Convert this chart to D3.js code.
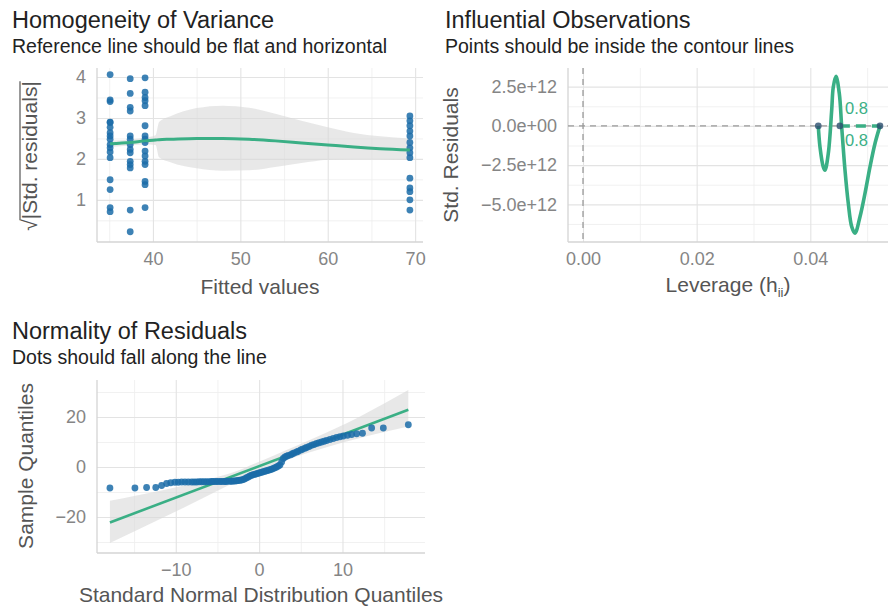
<!DOCTYPE html>
<html><head><meta charset="utf-8">
<script src="https://cdn.jsdelivr.net/npm/d3@7"></script>
<style>
body{margin:0;background:#fff;}
text{font-family:"Liberation Sans",Arial,Helvetica,sans-serif;}
</style></head><body>
<svg id="c" width="888" height="612"></svg>
<script>
// ---------- Panel 1: Homogeneity of Variance ----------
const hovX = [35.1,35.1,35.1,35.1,35.1,35.1,35.1,35.1,35.1,35.1,35.1,35.1,35.1,35.1,35.1,35.1,35.1,
  37.4,37.4,37.4,37.4,37.4,37.4,37.4,37.4,37.4,37.4,37.4,37.4,37.4,37.4,
  39.1,39.1,39.1,39.1,39.1,39.1,39.1,39.1,39.1,39.1,39.1,39.1,39.1,39.1,39.1,39.1,
  69.4,69.4,69.4,69.4,69.4,69.4,69.4,69.4,69.4,69.4,69.4,69.4,69.4,69.4];
const hovY = [4.06,3.44,3.40,2.89,2.77,2.64,2.56,2.48,2.35,2.27,2.17,2.03,1.49,1.25,0.81,0.71,2.90,
  3.96,3.60,3.26,3.17,2.56,2.48,2.35,2.23,2.15,1.94,1.86,1.78,0.75,0.22,
  3.98,3.63,3.50,3.42,3.30,2.81,2.56,2.48,2.40,2.19,2.07,1.94,1.86,1.45,1.37,0.81,
  3.05,2.93,2.81,2.68,2.56,2.40,2.27,2.15,2.03,1.53,1.29,1.20,1.00,0.75];
const fitX  = [35.1,37.4,39.1,40.3,40.7,42,45,48,51,54,57,60,63,66,69.4];
const fitY  = [2.37,2.40,2.44,2.46,2.47,2.48,2.50,2.50,2.48,2.44,2.39,2.34,2.29,2.25,2.22];
const fitLo = [2.29,2.33,2.36,2.34,2.04,1.92,1.77,1.71,1.72,1.80,1.90,1.98,2.00,2.00,1.97];
const fitHi = [2.45,2.47,2.52,2.58,2.90,3.04,3.24,3.30,3.25,3.10,2.93,2.77,2.63,2.55,2.50];
const hovXTicks = [40,50,60,70], hovXMinor = [35,45,55,65];
const hovYTicks = [1,2,3,4], hovYMinor = [0.5,1.5,2.5,3.5];

// ---------- Panel 2: Influential Observations ----------
const levX = [0.04140,0.04520,0.05226];
const levY = [0,0,0];
const contX = [0.04140,0.04170,0.04228,0.04258,0.04316,0.04376,0.04404,0.04452,0.04510,0.04552,0.04610,0.04668,0.04728,0.04786,0.04874,0.04962,0.05050,0.05138,0.05226];
const contY = [0,-1.34e12,-2.61e12,-2.82e12,-1.76e12,1.0e12,2.48e12,3.16e12,2.06e12,-0.06e12,-2.82e12,-4.94e12,-6.42e12,-6.84e12,-5.79e12,-4.30e12,-2.61e12,-1.12e12,0];
const contLabel = ["0.8","0.8"];
const contLabelX = [0.0461,0.0461];
const contLabelY = [0.78e12,-1.27e12];
const levXTicks = [0,0.02,0.04], levXMinor = [0.01,0.03,0.05];
const levXLabels = ["0.00","0.02","0.04"];
const levYTicks = [-5e12,-2.5e12,0,2.5e12], levYMinor = [-6.25e12,-3.75e12,-1.25e12,1.25e12];
const levYLabels = ["\u22125.0e+12","\u22122.5e+12","0.0e+00","2.5e+12"];

// ---------- Panel 3: Normality of Residuals ----------
const qqX = [-17.9,-14.9,-13.5,-12.4,-11.7,-11.1,-10.6,-10.1,-9.7,-9.3,-8.9,-8.5,-8.1,-7.8,-7.5,-7.2,-6.9,-6.6,-6.3,-6.0,-5.7,-5.5,-5.2,-5.0,-4.7,-4.5,-4.2,-4.0,-3.8,-3.5,-3.3,-3.1,-2.9,-2.7,-2.5,-2.3,-2.1,-1.9,-1.7,-1.5,-1.3,-1.1,-0.9,-0.7,-0.5,-0.3,-0.1,0.1,0.3,0.5,0.7,0.9,1.1,1.3,1.5,1.7,1.9,2.1,2.3,2.5,2.7,2.9,3.1,3.3,3.5,3.8,4.0,4.2,4.5,4.7,5.0,5.2,5.5,5.7,6.0,6.3,6.6,6.9,7.2,7.5,7.8,8.1,8.5,8.9,9.3,9.7,10.1,10.6,11.1,11.7,12.4,13.5,14.9,17.9];
const qqY = [-8.4,-8.4,-8.2,-8.2,-7.4,-6.6,-6.3,-6.1,-6.1,-6.0,-6.0,-6.0,-6.0,-6.0,-6.0,-5.9,-5.9,-5.9,-5.9,-5.9,-5.8,-5.8,-5.8,-5.8,-5.8,-5.8,-5.8,-5.8,-5.7,-5.7,-5.7,-5.6,-5.6,-5.5,-5.4,-5.3,-5.2,-5.0,-4.7,-4.3,-4.0,-3.6,-3.3,-3.1,-2.9,-2.7,-2.5,-2.3,-2.1,-1.9,-1.7,-1.5,-1.3,-1.1,-0.9,-0.6,-0.3,0.0,0.4,0.8,2.0,3.4,4.0,4.3,4.6,4.9,5.3,5.6,6.0,6.3,6.8,7.1,7.5,7.8,8.2,8.7,9.0,9.4,9.7,10.0,10.3,10.6,11.0,11.4,11.8,12.1,12.4,12.7,13.0,13.3,13.5,15.6,15.6,16.9];
const qqLineX = [-17.9,17.9], qqLineY = [-22.2,22.9];
const bandX  = [-17.9,-15,-12,-9,-6,-3,0,3,6,9,12,15,17.9];
const bandLo = [-30.4,-25.8,-21.0,-16.2,-11.2,-6.2,-1.4,2.5,5.8,8.8,11.5,14.0,16.2];
const bandHi = [-13.5,-11.6,-9.6,-7.4,-4.9,-2.0,2.1,6.4,10.7,15.2,20.0,25.4,30.8];
const qqXTicks = [-10,0,10], qqXMinor = [-15,-5,5,15];
const qqYTicks = [-20,0,20], qqYMinor = [-30,-10,10,30];

const titles = ["Homogeneity of Variance","Influential Observations","Normality of Residuals"];
const subtitles = ["Reference line should be flat and horizontal","Points should be inside the contour lines","Dots should fall along the line"];

// ---------- styles ----------
const GREEN = "#3aaf85", BLUE = "#1b6ca8";
const TICK_FS = 18, AXT_FS = 21, TITLE_FS = 23.5, SUB_FS = 19.5;
const svg = d3.select("#c");
svg.append("rect").attr("width",888).attr("height",612).attr("fill","#fff");
const minus = s => String(s).replace("-","\u2212");

function panel(o){
  const g = svg.append("g");
  const x = d3.scaleLinear().domain(o.xd).range([o.l,o.r]);
  const y = d3.scaleLinear().domain(o.yd).range([o.b,o.t]);
  const clipId = "clip"+o.id;
  svg.append("clipPath").attr("id",clipId).append("rect")
    .attr("x",o.l).attr("y",o.t).attr("width",o.r-o.l).attr("height",o.b-o.t);
  // minor grid
  g.append("g").attr("transform",`translate(0,${o.b})`)
    .call(d3.axisBottom(x).tickValues(o.xMinor).tickSize(-(o.b-o.t)).tickFormat(""))
    .call(a=>{a.select(".domain").remove();a.selectAll("line").attr("stroke","#eeeeee").attr("stroke-width",0.8);});
  g.append("g").attr("transform",`translate(${o.l},0)`)
    .call(d3.axisLeft(y).tickValues(o.yMinor).tickSize(-(o.r-o.l)).tickFormat(""))
    .call(a=>{a.select(".domain").remove();a.selectAll("line").attr("stroke","#eeeeee").attr("stroke-width",0.8);});
  // major grid + labels
  const ax = g.append("g").attr("transform",`translate(0,${o.b})`)
    .call(d3.axisBottom(x).tickValues(o.xTicks).tickSize(-(o.b-o.t)).tickPadding(10).tickFormat((d,i)=>o.xLab?o.xLab[i]:minus(d)));
  ax.select(".domain").remove();
  ax.selectAll("line").attr("stroke","#e3e3e3").attr("stroke-width",1.1);
  ax.selectAll("text").attr("fill","#858585").attr("font-size",TICK_FS).attr("font-family","Liberation Sans, Arial, sans-serif").attr("y",10);
  const ay = g.append("g").attr("transform",`translate(${o.l},0)`)
    .call(d3.axisLeft(y).tickValues(o.yTicks).tickSize(-(o.r-o.l)).tickPadding(11).tickFormat((d,i)=>o.yLab?o.yLab[i]:minus(d)));
  ay.select(".domain").remove();
  ay.selectAll("line").attr("stroke","#e3e3e3").attr("stroke-width",1.1);
  ay.selectAll("text").attr("fill","#858585").attr("font-size",TICK_FS).attr("font-family","Liberation Sans, Arial, sans-serif").attr("x",-11);
  // axis lines
  g.append("line").attr("x1",o.l).attr("x2",o.l).attr("y1",o.t).attr("y2",o.b).attr("stroke","#d4d4d4").attr("stroke-width",1.3);
  g.append("line").attr("x1",o.l).attr("x2",o.r).attr("y1",o.b).attr("y2",o.b).attr("stroke","#d4d4d4").attr("stroke-width",1.3);
  // titles
  g.append("text").attr("x",o.titleX).attr("y",o.titleY).attr("font-size",TITLE_FS).attr("fill","#222").text(titles[o.id]);
  g.append("text").attr("x",o.titleX).attr("y",o.titleY+25).attr("font-size",SUB_FS).attr("fill","#222").text(subtitles[o.id]);
  const plot = g.append("g").attr("clip-path",`url(#${clipId})`);
  return {g,plot,x,y};
}

// ---------- Panel 1 ----------
{
  const P = panel({id:0,l:97,r:423,t:68,b:242,xd:[33.6,70.9],yd:[-0.03,4.22],
    xTicks:hovXTicks,xMinor:hovXMinor,yTicks:hovYTicks,yMinor:hovYMinor,titleX:12,titleY:28});
  const {plot,x,y,g} = P;
  const band = fitX.map((d,i)=>({x:d,lo:fitLo[i],hi:fitHi[i],y:fitY[i]}));
  plot.append("path").datum(band).attr("fill","#d9d9d9").attr("opacity",0.6)
    .attr("d",d3.area().x(d=>x(d.x)).y0(d=>y(d.lo)).y1(d=>y(d.hi)).curve(d3.curveMonotoneX));
  plot.selectAll("circle").data(hovX.map((d,i)=>[d,hovY[i]])).join("circle")
    .attr("cx",d=>x(d[0])).attr("cy",d=>y(d[1])).attr("r",3.4).attr("fill",BLUE).attr("opacity",0.85);
  plot.append("path").datum(band).attr("fill","none").attr("stroke",GREEN).attr("stroke-width",3)
    .attr("d",d3.line().x(d=>x(d.x)).y(d=>y(d.y)).curve(d3.curveMonotoneX));
  g.append("text").attr("x",260).attr("y",294).attr("text-anchor","middle").attr("font-size",AXT_FS).attr("fill","#555").text("Fitted values");
  // y title with radical
  const yt = g.append("g").attr("transform","translate(37,156) rotate(-90)");
  const t = yt.append("text").attr("font-size",AXT_FS).attr("fill","#555");
  t.append("tspan").text("\u221A");
  t.append("tspan").text("|Std. residuals|");
  const len = t.node().getComputedTextLength();
  t.attr("x",-len/2);
  const rl = t.node().getSubStringLength(0,1);
  yt.append("line").attr("x1",-len/2+rl-1).attr("x2",len/2).attr("y1",-17).attr("y2",-17).attr("stroke","#555").attr("stroke-width",1.2);
}

// ---------- Panel 2 ----------
{
  const P = panel({id:1,l:568,r:895,t:68,b:242,xd:[-0.00264,0.0549],yd:[-7.40e12,3.69e12],
    xTicks:levXTicks,xMinor:levXMinor,xLab:levXLabels,yTicks:levYTicks,yMinor:levYMinor,yLab:levYLabels,titleX:445,titleY:28});
  const {plot,x,y,g} = P;
  plot.append("line").attr("x1",x(0)).attr("x2",x(0)).attr("y1",68).attr("y2",242)
    .attr("stroke","#9a9a9a").attr("stroke-width",1.3).attr("stroke-dasharray","6,5");
  plot.append("line").attr("x1",568).attr("x2",895).attr("y1",y(0)).attr("y2",y(0))
    .attr("stroke","#9a9a9a").attr("stroke-width",1.3).attr("stroke-dasharray","6,5");
  plot.append("line").attr("x1",x(levX[1])).attr("x2",x(levX[2])).attr("y1",y(0)).attr("y2",y(0))
    .attr("stroke",GREEN).attr("stroke-width",3.5).attr("stroke-dasharray","10,6");
  plot.append("path").datum(contX.map((d,i)=>[d,contY[i]])).attr("fill","none").attr("stroke",GREEN)
    .attr("stroke-width",3.6).attr("stroke-linejoin","round")
    .attr("d",d3.line().x(d=>x(d[0])).y(d=>y(d[1])).curve(d3.curveCatmullRom));
  plot.selectAll("circle").data(levX.map((d,i)=>[d,levY[i]])).join("circle")
    .attr("cx",d=>x(d[0])).attr("cy",d=>y(d[1])).attr("r",3.3).attr("fill","#2a4e6e").attr("opacity",0.8);
  plot.selectAll("text.cl").data(contLabel).join("text").attr("class","cl")
    .attr("x",(d,i)=>x(contLabelX[i])).attr("y",(d,i)=>y(contLabelY[i])).attr("font-size",16.5).attr("fill",GREEN).text(d=>d);
  const xt = g.append("text").attr("x",728).attr("y",292).attr("text-anchor","middle").attr("font-size",AXT_FS).attr("fill","#555");
  xt.append("tspan").text("Leverage (h");
  xt.append("tspan").attr("font-size",13).attr("dy",5).text("ii");
  xt.append("tspan").attr("dy",-5).text(")");
  g.append("text").attr("transform","translate(458,155) rotate(-90)").attr("text-anchor","middle")
    .attr("font-size",AXT_FS).attr("fill","#555").text("Std. Residuals");
}

// ---------- Panel 3 ----------
{
  const P = panel({id:2,l:97,r:425,t:380,b:553,xd:[-19.45,19.9],yd:[-34.4,34.8],
    xTicks:qqXTicks,xMinor:qqXMinor,yTicks:qqYTicks,yMinor:qqYMinor,titleX:12,titleY:339});
  const {plot,x,y,g} = P;
  const band = bandX.map((d,i)=>({x:d,lo:bandLo[i],hi:bandHi[i]}));
  plot.append("path").datum(band).attr("fill","#d9d9d9").attr("opacity",0.6)
    .attr("d",d3.area().x(d=>x(d.x)).y0(d=>y(d.lo)).y1(d=>y(d.hi)).curve(d3.curveMonotoneX));
  plot.append("path").datum(qqLineX.map((d,i)=>[d,qqLineY[i]])).attr("fill","none").attr("stroke",GREEN)
    .attr("stroke-width",2.6).attr("d",d3.line().x(d=>x(d[0])).y(d=>y(d[1])));
  plot.selectAll("circle").data(qqX.map((d,i)=>[d,qqY[i]])).join("circle")
    .attr("cx",d=>x(d[0])).attr("cy",d=>y(d[1])).attr("r",3.4).attr("fill",BLUE).attr("opacity",0.85);
  g.append("text").attr("x",261).attr("y",602).attr("text-anchor","middle").attr("font-size",AXT_FS).attr("fill","#555")
    .text("Standard Normal Distribution Quantiles");
  g.append("text").attr("transform","translate(33,466) rotate(-90)").attr("text-anchor","middle")
    .attr("font-size",AXT_FS).attr("fill","#555").text("Sample Quantiles");
}
</script></body></html>
